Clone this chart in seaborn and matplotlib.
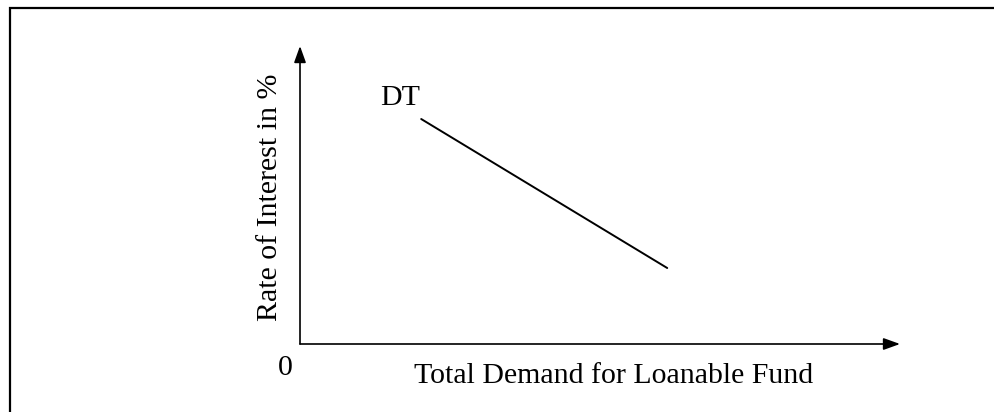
import matplotlib
matplotlib.use("Agg")
import matplotlib.pyplot as plt
import matplotlib.patches as mpatches
import seaborn as sns
import pandas as pd

# demand curve DT (quantity of loanable funds, rate of interest)
demand_qty = [2.02, 6.12]
demand_rate = [7.55, 2.55]
curve_label = "DT"
x_label = "Total Demand for Loanable Fund"
y_label = "Rate of Interest in %"
origin_label = "0"
axis_len = 10

sns.set_theme(style="white")
plt.rcParams["font.family"] = ["Liberation Serif", "DejaVu Serif"]
plt.rcParams["text.color"] = "black"
FS = 21.5

fig = plt.figure(figsize=(9.95, 4.12), dpi=100)
ax = fig.add_axes([0, 0, 1, 1])
ax.axis("off")

# outer frame (cut off at right and bottom)
frame = mpatches.Rectangle((10 / 995, -0.1), 1.2, 1 - 8 / 412 + 0.1,
                           transform=fig.transFigure, fill=False,
                           edgecolor="black", lw=1.6)
fig.patches.append(frame)

# axes with arrow heads
arrow = dict(arrowstyle="-|>,head_length=0.5,head_width=0.18", color="black",
             lw=1.2, mutation_scale=20, shrinkA=0, shrinkB=0)
ax.annotate("", xy=(0, axis_len), xytext=(0, 0), arrowprops=arrow)
ax.annotate("", xy=(axis_len, 0), xytext=(0, 0), arrowprops=arrow)

df = pd.DataFrame({"qty": demand_qty, "rate": demand_rate})
sns.lineplot(data=df, x="qty", y="rate", color="black", lw=1.4, ax=ax)
ax.set_xlabel("")
ax.set_ylabel("")
ax.set_xlim(-5, 11.583)
ax.set_ylim(-2.282, 11.544)

ax.text(demand_qty[0] - 0.68, demand_rate[0] + 0.47, curve_label,
        fontsize=FS, ha="left", va="baseline", color="black")
ax.text(-0.25, -1.04, origin_label, fontsize=FS, ha="center", va="baseline",
        color="black")
ax.text(5.23, -1.31, x_label, fontsize=FS, ha="center", va="baseline",
        color="black")
ax.text(-0.383, 4.92, y_label, fontsize=FS, rotation=90, color="black",
        rotation_mode="anchor", ha="center", va="baseline")

fig.savefig("out.png", dpi=100)
